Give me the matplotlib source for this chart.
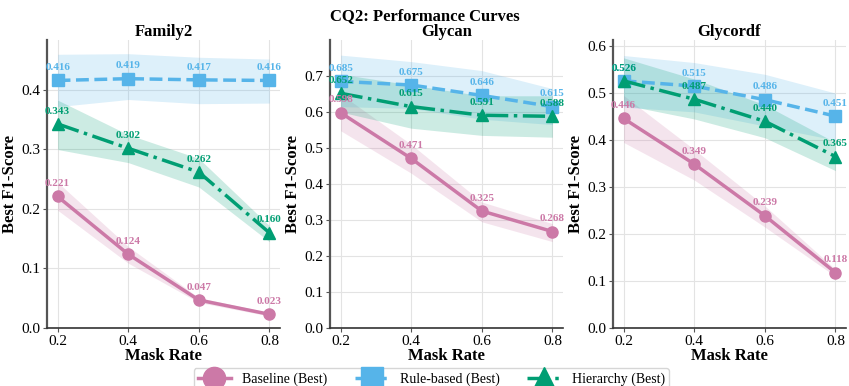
import numpy as np
import matplotlib
matplotlib.use('Agg')
from matplotlib import pyplot as plt

plt.rcParams['font.family'] = ['Liberation Serif', 'DejaVu Serif']

mask_rates = [0.2, 0.4, 0.6, 0.8]
datasets = ['Family2', 'Glycan', 'Glycordf']

#mean values per dataset
baseline = {'Family2': [0.221, 0.124, 0.047, 0.023],
            'Glycan': [0.598, 0.471, 0.325, 0.268],
            'Glycordf': [0.446, 0.349, 0.239, 0.118]}
rule_based = {'Family2': [0.416, 0.419, 0.417, 0.416],
              'Glycan': [0.685, 0.675, 0.646, 0.615],
              'Glycordf': [0.526, 0.515, 0.486, 0.451]}
hierarchy = {'Family2': [0.343, 0.302, 0.262, 0.160],
             'Glycan': [0.652, 0.615, 0.591, 0.588],
             'Glycordf': [0.526, 0.487, 0.440, 0.365]}

#shaded band edges (lower, upper)
baseline_band = {'Family2': ([0.198, 0.109, 0.043, 0.020], [0.245, 0.137, 0.051, 0.026]),
                 'Glycan': ([0.548, 0.430, 0.295, 0.240], [0.650, 0.510, 0.350, 0.290]),
                 'Glycordf': ([0.395, 0.315, 0.215, 0.110], [0.495, 0.380, 0.260, 0.125])}
rule_band = {'Family2': ([0.372, 0.384, 0.377, 0.378], [0.460, 0.461, 0.455, 0.452]),
             'Glycan': ([0.615, 0.610, 0.580, 0.565], [0.758, 0.740, 0.715, 0.665]),
             'Glycordf': ([0.470, 0.460, 0.430, 0.400], [0.580, 0.565, 0.540, 0.500])}
hier_band = {'Family2': ([0.300, 0.278, 0.237, 0.145], [0.383, 0.325, 0.285, 0.172]),
             'Glycan': ([0.600, 0.555, 0.535, 0.530], [0.705, 0.675, 0.645, 0.645]),
             'Glycordf': ([0.475, 0.445, 0.405, 0.335], [0.575, 0.530, 0.475, 0.395])}

y_max = {'Family2': 0.484, 'Glycan': 0.80, 'Glycordf': 0.613}
y_ticks = {'Family2': [0.0, 0.1, 0.2, 0.3, 0.4],
           'Glycan': [0.0, 0.1, 0.2, 0.3, 0.4, 0.5, 0.6, 0.7],
           'Glycordf': [0.0, 0.1, 0.2, 0.3, 0.4, 0.5, 0.6]}

series = [('Baseline (Best)', baseline, baseline_band, '#CC79A7', '-', 'o'),
          ('Rule-based (Best)', rule_based, rule_band, '#56B4E9', '--', 's'),
          ('Hierarchy (Best)', hierarchy, hier_band, '#009E73', '-.', '^')]

fig = plt.figure(figsize=(8.49, 3.86), dpi=100)
lefts = [47, 330, 613]
axes = []
for i, name in enumerate(datasets):
    ax = fig.add_axes([lefts[i] / 849, (386 - 328) / 386, 233 / 849, 288 / 386])
    axes.append(ax)
    for label, vals, band, color, ls, mk in series:
        lo, hi = band[name]
        ax.fill_between(mask_rates, lo, hi, color=color, alpha=0.2, linewidth=0)
        ax.plot(mask_rates, vals[name], color=color, linestyle=ls, marker=mk,
                markersize=8, linewidth=2.5, label=label)
        for x, v in zip(mask_rates, vals[name]):
            ax.annotate(f'{v:.3f}', (x, v), xytext=(0, 6), textcoords='offset points',
                        ha='center', va='bottom', fontsize=8, fontweight='bold', color=color)
    ax.set_xlim(0.17, 0.83)
    ax.set_ylim(0, y_max[name])
    ax.set_xticks(mask_rates)
    ax.set_yticks(y_ticks[name])
    ax.tick_params(labelsize=11, length=3, pad=2, color='#555555')
    ax.grid(True, color='#e3e3e3', linewidth=0.8)
    ax.set_axisbelow(True)
    for s in ['top', 'right']:
        ax.spines[s].set_visible(False)
    ax.spines['left'].set_linewidth(1.6)
    ax.spines['bottom'].set_linewidth(1.2)
    ax.spines['left'].set_color('#555555')
    ax.spines['bottom'].set_color('#333333')
    ax.set_title(name, fontsize=12, fontweight='bold', pad=2)
    ax.set_xlabel('Mask Rate', fontsize=12, fontweight='bold', labelpad=0)
    ax.set_ylabel('Best F1-Score', fontsize=12, fontweight='bold', labelpad=2)

fig.suptitle('CQ2: Performance Curves', fontsize=12, fontweight='bold', y=0.978)

handles, labels = axes[0].get_legend_handles_labels()
fig.legend(handles, labels, loc='upper center', bbox_to_anchor=(0.508, 0.064),
           ncol=3, fontsize=10, markerscale=2, frameon=True, fancybox=True,
           edgecolor='#cccccc', columnspacing=2.0, handlelength=2.4,
           borderpad=0.3)

fig.savefig('out.png', dpi=100)
